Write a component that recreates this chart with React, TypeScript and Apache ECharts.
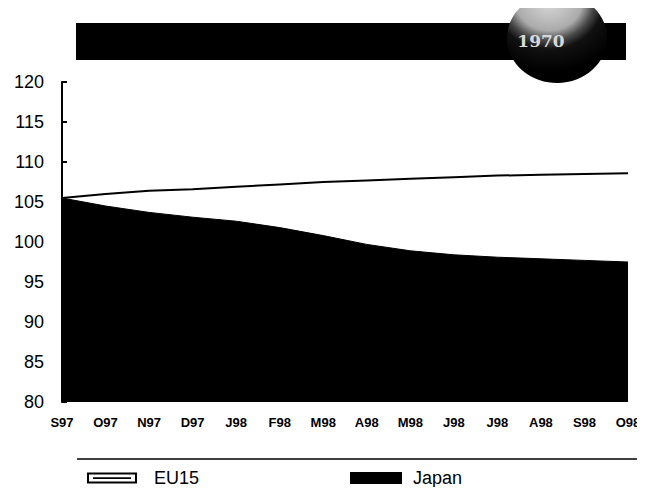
import React, { useEffect, useRef } from "react";
import * as echarts from "echarts";

const months = ["S97", "O97", "N97", "D97", "J98", "F98", "M98", "A98", "M98", "J98", "J98", "A98", "S98", "O98"];
const eu15 = [105.5, 106.0, 106.4, 106.6, 106.9, 107.2, 107.5, 107.7, 107.9, 108.1, 108.3, 108.4, 108.5, 108.6];
const japan = [105.5, 104.5, 103.7, 103.1, 102.6, 101.8, 100.8, 99.7, 98.9, 98.4, 98.1, 97.9, 97.7, 97.5];
const seriesNames = ["EU15", "Japan"];
const yMin = 80;
const yMax = 120;
const yStep = 5;

const FONT = "'Liberation Sans', Arial, Helvetica, sans-serif";

const App: React.FC = () => {
  const ref = useRef<HTMLDivElement>(null);
  useEffect(() => {
    if (!ref.current) return;
    const chart = echarts.init(ref.current, undefined, { renderer: "svg" });
    const euIcon = "path://M0 0H50V11H0Z M2 2V9H48V2Z M6 4.8H44V6.4H6Z";
    chart.setOption({
      animation: false,
      backgroundColor: "#fff",
      grid: { left: 62, right: 17, top: 82, bottom: 93, containLabel: false },
      xAxis: {
        type: "category",
        data: months,
        boundaryGap: false,
        axisLine: { show: false },
        axisTick: { show: false },
        axisLabel: {
          interval: 0,
          margin: 14,
          fontFamily: FONT,
          fontSize: 13,
          fontWeight: "bold",
          color: "#000",
        },
        splitLine: { show: false },
      },
      yAxis: {
        type: "value",
        min: yMin,
        max: yMax,
        interval: yStep,
        axisLine: { show: true, lineStyle: { color: "#000", width: 2 } },
        axisTick: { show: true, inside: true, length: 5, lineStyle: { color: "#000", width: 2 } },
        axisLabel: { fontFamily: FONT, fontSize: 18, color: "#000", margin: 18 },
        splitLine: { show: false },
      },
      legend: [
        {
          left: 82,
          top: 464,
          itemWidth: 50,
          itemHeight: 11,
          data: [{ name: seriesNames[0], icon: euIcon, itemStyle: { color: "#000" } }],
          textStyle: { fontFamily: FONT, fontSize: 18, color: "#000", padding: [0, 0, 0, 12] },
          selectedMode: false,
        },
        {
          left: 345,
          top: 464,
          itemWidth: 52,
          itemHeight: 12,
          data: [{ name: seriesNames[1], icon: "rect", itemStyle: { color: "#000" } }],
          textStyle: { fontFamily: FONT, fontSize: 18, color: "#000", padding: [0, 0, 0, 6] },
          selectedMode: false,
        },
      ],
      graphic: [
        {
          type: "rect",
          shape: { x: 76, y: 23, width: 550, height: 37 },
          style: { fill: "#000" },
          silent: true,
        },
        {
          type: "ellipse",
          shape: { cx: 557, cy: 38, rx: 50, ry: 45 },
          style: {
            fill: new echarts.graphic.RadialGradient(0.42, 0.08, 0.8, [
              { offset: 0, color: "#dcdcdc" },
              { offset: 0.42, color: "#ababab" },
              { offset: 0.56, color: "#4a4a4a" },
              { offset: 0.68, color: "#111" },
              { offset: 1, color: "#000" },
            ]),
          },
          silent: true,
        },
        {
          type: "text",
          x: 541,
          y: 41,
          style: {
            text: "1970",
            fill: "#d8d8d8",
            font: "bold 17px 'DejaVu Serif', serif",
            align: "center",
            verticalAlign: "middle",
          },
          silent: true,
        },
        {
          type: "line",
          shape: { x1: 77, y1: 459, x2: 645, y2: 459 },
          style: { stroke: "#000", lineWidth: 1.5 },
          silent: true,
        },
      ],
      series: [
        {
          name: seriesNames[1],
          type: "line",
          data: japan,
          symbol: "none",
          itemStyle: { color: "#000" },
          lineStyle: { color: "#000", width: 1 },
          areaStyle: { color: "#000", opacity: 1, origin: "start" },
          z: 2,
        },
        {
          name: seriesNames[0],
          type: "line",
          data: eu15,
          symbol: "none",
          itemStyle: { color: "#000" },
          lineStyle: { color: "#000", width: 2 },
          z: 3,
        },
      ],
    });
    return () => chart.dispose();
  }, []);
  return <div ref={ref} style={{ width: 645, height: 495, margin: -8 }} />;
};

export default App;
